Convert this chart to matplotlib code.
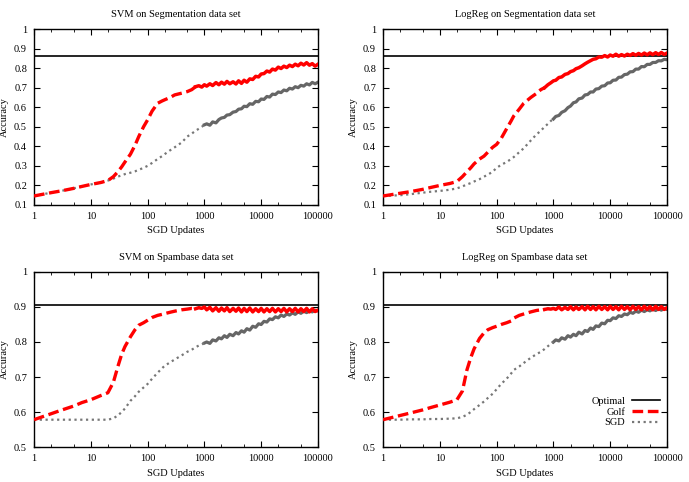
import matplotlib
matplotlib.use("Agg")
import matplotlib.pyplot as plt
from matplotlib.ticker import FixedLocator, NullFormatter

plt.rcParams['font.family'] = ['Liberation Serif', 'DejaVu Serif']
plt.rcParams['font.size'] = 7.5

updates = [1, 2, 3, 5, 7, 10, 15, 20, 25, 30, 35, 40, 50, 60, 70, 85, 100, 120, 150, 180,
           200, 250, 300, 400, 500, 600, 700, 800, 900, 1000, 1100, 1250, 1400, 1600, 1800,
           2000, 2250, 2500, 2800, 3200, 3600, 4000, 4500, 5000, 5600, 6300, 7100, 8000, 9000,
           10000, 11200, 12600, 14100, 15800, 17800, 20000, 22400, 25100, 28200, 31600, 35500,
           39800, 44700, 50100, 56200, 63100, 70800, 79400, 89100, 100000]

# SVM on Segmentation
svm_seg_golf = [0.146, 0.163, 0.172, 0.185, 0.195, 0.205, 0.215, 0.225, 0.245, 0.27, 0.295, 0.32,
                0.36, 0.405, 0.45, 0.5, 0.535, 0.58, 0.62, 0.632, 0.638, 0.65, 0.663, 0.672, 0.68,
                0.69, 0.705, 0.71, 0.703, 0.715, 0.708, 0.72, 0.711, 0.726, 0.715, 0.728, 0.718,
                0.732, 0.72, 0.73, 0.719, 0.735, 0.722, 0.738, 0.728, 0.745, 0.742, 0.758, 0.755,
                0.77, 0.772, 0.785, 0.78, 0.795, 0.79, 0.805, 0.798, 0.81, 0.803, 0.815, 0.808,
                0.82, 0.812, 0.825, 0.816, 0.828, 0.815, 0.823, 0.81, 0.82]
svm_seg_sgd = [0.146, 0.163, 0.172, 0.185, 0.195, 0.205, 0.215, 0.225, 0.235, 0.245, 0.252, 0.258,
               0.265, 0.272, 0.28, 0.29, 0.3, 0.315, 0.335, 0.35, 0.36, 0.38, 0.395, 0.42, 0.45,
               0.465, 0.48, 0.49, 0.5, 0.51, 0.515, 0.508, 0.525, 0.52, 0.537, 0.545, 0.548, 0.56,
               0.562, 0.575, 0.578, 0.59, 0.592, 0.605, 0.603, 0.618, 0.615, 0.63, 0.628, 0.642,
               0.64, 0.655, 0.652, 0.667, 0.665, 0.678, 0.675, 0.688, 0.684, 0.697, 0.693, 0.705,
               0.7, 0.712, 0.708, 0.72, 0.714, 0.727, 0.72, 0.728]

# LogReg on Segmentation
lr_seg_golf = [0.146, 0.16, 0.168, 0.18, 0.19, 0.2, 0.21, 0.22, 0.245, 0.27, 0.29, 0.31, 0.335,
               0.35, 0.37, 0.395, 0.41, 0.44, 0.49, 0.53, 0.555, 0.59, 0.62, 0.65, 0.67, 0.69,
               0.7, 0.715, 0.725, 0.735, 0.738, 0.752, 0.755, 0.768, 0.772, 0.782, 0.787, 0.797,
               0.802, 0.812, 0.822, 0.83, 0.838, 0.845, 0.848, 0.857, 0.856, 0.864, 0.857, 0.867,
               0.861, 0.871, 0.861, 0.869, 0.862, 0.871, 0.865, 0.874, 0.866, 0.875, 0.867, 0.877,
               0.868, 0.878, 0.869, 0.879, 0.87, 0.88, 0.87, 0.877]
lr_seg_sgd = [0.146, 0.15, 0.155, 0.163, 0.168, 0.172, 0.178, 0.185, 0.195, 0.205, 0.212, 0.22,
              0.232, 0.245, 0.255, 0.27, 0.29, 0.305, 0.32, 0.335, 0.345, 0.37, 0.39, 0.43, 0.46,
              0.48, 0.5, 0.515, 0.53, 0.54, 0.553, 0.558, 0.574, 0.582, 0.598, 0.606, 0.623,
              0.627, 0.643, 0.647, 0.663, 0.665, 0.678, 0.678, 0.693, 0.695, 0.708, 0.71, 0.724,
              0.725, 0.738, 0.739, 0.753, 0.754, 0.767, 0.769, 0.781, 0.782, 0.795, 0.795, 0.808,
              0.807, 0.819, 0.819, 0.829, 0.829, 0.838, 0.837, 0.845, 0.843]

# SVM on Spambase
svm_spam_golf = [0.578, 0.595, 0.605, 0.617, 0.627, 0.635, 0.647, 0.655, 0.685, 0.73, 0.765, 0.787,
                 0.815, 0.835, 0.848, 0.855, 0.862, 0.87, 0.876, 0.879, 0.881, 0.885, 0.888, 0.892,
                 0.894, 0.896, 0.895, 0.898, 0.896, 0.9, 0.892, 0.899, 0.889, 0.898, 0.888, 0.897,
                 0.889, 0.898, 0.887, 0.896, 0.888, 0.897, 0.886, 0.896, 0.887, 0.897, 0.886, 0.895,
                 0.887, 0.896, 0.886, 0.895, 0.887, 0.896, 0.886, 0.895, 0.887, 0.896, 0.886, 0.895,
                 0.887, 0.896, 0.886, 0.895, 0.887, 0.896, 0.886, 0.895, 0.887, 0.891]
svm_spam_sgd = [0.578, 0.578, 0.578, 0.578, 0.578, 0.578, 0.578, 0.578, 0.582, 0.59, 0.6, 0.61,
                0.632, 0.645, 0.658, 0.67, 0.68, 0.695, 0.712, 0.725, 0.732, 0.742, 0.75, 0.762,
                0.772, 0.778, 0.785, 0.79, 0.793, 0.797, 0.8, 0.796, 0.806, 0.803, 0.812, 0.809,
                0.818, 0.813, 0.822, 0.818, 0.827, 0.823, 0.832, 0.828, 0.838, 0.834, 0.845, 0.842,
                0.852, 0.85, 0.859, 0.857, 0.866, 0.864, 0.872, 0.869, 0.877, 0.873, 0.88, 0.877,
                0.883, 0.879, 0.886, 0.882, 0.888, 0.884, 0.889, 0.886, 0.891, 0.889]

# LogReg on Spambase
lr_spam_golf = [0.578, 0.59, 0.597, 0.606, 0.613, 0.62, 0.628, 0.635, 0.66, 0.72, 0.755, 0.78,
                0.81, 0.826, 0.835, 0.841, 0.845, 0.85, 0.855, 0.86, 0.868, 0.876, 0.88, 0.886,
                0.89, 0.892, 0.893, 0.895, 0.894, 0.896, 0.893, 0.9, 0.892, 0.899, 0.893, 0.901,
                0.892, 0.9, 0.893, 0.901, 0.892, 0.902, 0.893, 0.901, 0.892, 0.902, 0.893, 0.901,
                0.892, 0.902, 0.893, 0.901, 0.892, 0.902, 0.893, 0.901, 0.892, 0.902, 0.893, 0.901,
                0.892, 0.902, 0.893, 0.901, 0.892, 0.902, 0.893, 0.901, 0.893, 0.898]
lr_spam_sgd = [0.578, 0.578, 0.579, 0.579, 0.58, 0.58, 0.581, 0.582, 0.586, 0.592, 0.6, 0.608,
               0.62, 0.63, 0.64, 0.652, 0.665, 0.68, 0.695, 0.71, 0.72, 0.73, 0.74, 0.755, 0.765,
               0.772, 0.78, 0.788, 0.795, 0.8, 0.806, 0.803, 0.812, 0.808, 0.818, 0.814, 0.822,
               0.818, 0.828, 0.823, 0.833, 0.83, 0.84, 0.836, 0.846, 0.844, 0.854, 0.852, 0.862,
               0.861, 0.869, 0.867, 0.875, 0.873, 0.88, 0.878, 0.885, 0.882, 0.888, 0.885, 0.891,
               0.887, 0.892, 0.889, 0.894, 0.89, 0.895, 0.891, 0.896, 0.893]

optimal_seg = 0.86
optimal_spam = 0.907

panels = [
    ("SVM on Segmentation data set", svm_seg_golf, svm_seg_sgd, optimal_seg, (0.1, 1.0)),
    ("LogReg on Segmentation data set", lr_seg_golf, lr_seg_sgd, optimal_seg, (0.1, 1.0)),
    ("SVM on Spambase data set", svm_spam_golf, svm_spam_sgd, optimal_spam, (0.5, 1.0)),
    ("LogReg on Spambase data set", lr_spam_golf, lr_spam_sgd, optimal_spam, (0.5, 1.0)),
]

seg_yticks = [0.1, 0.2, 0.3, 0.4, 0.5, 0.6, 0.7, 0.8, 0.9, 1.0]
spam_yticks = [0.5, 0.6, 0.7, 0.8, 0.9, 1.0]
xticks = [1, 10, 100, 1000, 10000, 100000]
xlabels = ["1", "10", "100", "1000", "10000", "100000"]

red = "#ff0000"
grey = "#777777"
grey_band = "#666666"
split_golf = 26   # index where the golf curve becomes a dense noisy band
split_sgd = 29

fig = plt.figure(figsize=(6.89, 4.82), dpi=100)
rects = [(0.0493, 0.5747, 0.4122, 0.3651), (0.5559, 0.5747, 0.4122, 0.3651),
         (0.0493, 0.0726, 0.4122, 0.3631), (0.5559, 0.0726, 0.4122, 0.3631)]

for rect, (title, golf, sgd, opt, ylim) in zip(rects, panels):
    ax = fig.add_axes(rect)
    ax.set_xscale("log")
    ax.set_xlim(1, 100000)
    ax.set_ylim(*ylim)

    opt_line = ax.axhline(opt, color="black", lw=1.2, zorder=1)
    ax.plot(updates[split_sgd:], sgd[split_sgd:], color=grey_band, lw=2.3, zorder=2)
    sgd_line, = ax.plot(updates[:split_sgd + 1], sgd[:split_sgd + 1], color=grey, lw=1.6,
                        dashes=(1, 1.6), zorder=2)
    ax.plot(updates[split_golf:], golf[split_golf:], color=red, lw=2.5, zorder=3)
    golf_line, = ax.plot(updates[:split_golf + 1], golf[:split_golf + 1], color=red, lw=2.4,
                         dashes=(3.2, 1.4), zorder=3)

    ax.set_title(title, fontsize=7.5, pad=8.5)
    ax.set_xlabel("SGD Updates", fontsize=7.5, labelpad=4)
    ax.set_ylabel("Accuracy", fontsize=7.5, labelpad=4)

    ax.xaxis.set_major_locator(FixedLocator(xticks))
    ax.set_xticklabels(xlabels)
    ax.xaxis.set_minor_locator(FixedLocator([m * 10 ** k for k in range(5) for m in (2, 5)]))
    ax.xaxis.set_minor_formatter(NullFormatter())
    yt = seg_yticks if ylim[0] < 0.5 else spam_yticks
    ax.set_yticks(yt)
    ax.set_yticklabels(["1" if v == 1.0 else "%g" % v for v in yt])
    ax.tick_params(which="both", direction="in", top=True, right=True, labelsize=7.5, pad=5)
    ax.tick_params(which="major", length=4, width=0.8)
    ax.tick_params(which="minor", length=2, width=0.6)
    for s in ax.spines.values():
        s.set_linewidth(1.0)

ax.legend([opt_line, golf_line, sgd_line], ["Optimal", "Golf", "SGD"], loc="lower right",
          bbox_to_anchor=(1.0, 0.07), frameon=False, markerfirst=False, handlelength=2.7,
          labelspacing=0.15, handletextpad=0.6, fontsize=7.5, borderpad=0.2)

fig.savefig("out.png", dpi=100)
